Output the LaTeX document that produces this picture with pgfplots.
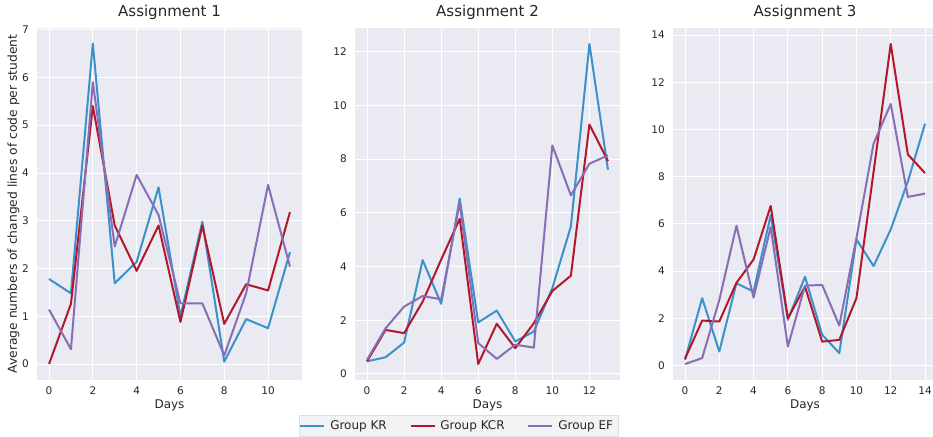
\documentclass[border=0pt]{standalone}
\usepackage{pgfplots}
\pgfplotsset{compat=1.18}
\usepackage{fontspec}
\setmainfont{DejaVu Sans}
\definecolor{bgc}{HTML}{EAEAF2}
\definecolor{kr}{HTML}{3A92C9}
\definecolor{kcr}{HTML}{B2182B}
\definecolor{ef}{HTML}{8A6DB5}
\definecolor{txt}{HTML}{262626}
\definecolor{legbg}{HTML}{F3F3F6}
\newcommand{\lf}{\fontsize{12}{14}\selectfont}
\pgfplotsset{
  base/.style={
    scale only axis, height=352pt,
    axis background/.style={fill=bgc},
    axis line style={draw=none},
    major tick length=0pt,
    grid=major, major grid style={white, line width=0.9pt},
    tick label style={font=\fontsize{10.5}{12}\selectfont, text=txt, inner sep=0pt},
    yticklabel style={anchor=east, xshift=-8pt},
    xticklabel style={anchor=north, yshift=-6.5pt},
    /pgf/number format/assume math mode=true,
    title style={font=\fontsize{15}{18}\selectfont, text=txt, at={(axis description cs:0.5,1)}, anchor=base, yshift=5.5pt, inner sep=0pt},
    xlabel style={font=\fontsize{12}{14}\selectfont, text=txt, at={(axis description cs:0.5,0)}, anchor=base, yshift=-28pt, inner sep=0pt},
    xlabel={Days},
    every axis plot/.append style={line width=2pt, line join=round, mark=none},
    legend image code/.code={\draw[#1, line width=1.6pt] (0pt,0pt) -- (24pt,0pt);},
  }
}
\begin{document}
\begin{tikzpicture}
\useasboundingbox (0pt,0pt) rectangle (933pt,436pt);
% Panel 1
\begin{axis}[base, at={(37pt,56pt)}, anchor=south west, width=265pt,
  xmin=-0.55, xmax=11.55, ymin=-0.335, ymax=7.035,
  xtick={0,2,...,10}, ytick={0,1,...,7},
  title={Assignment 1},
  ylabel={Average numbers of changed lines of code per student},
  ylabel style={font=\fontsize{12.3}{14}\selectfont, text=txt, at={(axis description cs:-0.0755,0.5)}, anchor=base, inner sep=0pt},
]
\addplot[kr] coordinates {(0,1.78)(1,1.48)(2,6.71)(3,1.69)(4,2.14)(5,3.70)(6,1.00)(7,2.98)(8,0.05)(9,0.94)(10,0.75)(11,2.34)};
\addplot[kcr] coordinates {(0,0)(1,1.26)(2,5.40)(3,2.90)(4,1.95)(5,2.90)(6,0.88)(7,2.90)(8,0.84)(9,1.67)(10,1.54)(11,3.18)};
\addplot[ef] coordinates {(0,1.14)(1,0.31)(2,5.90)(3,2.46)(4,3.96)(5,3.12)(6,1.27)(7,1.27)(8,0.18)(9,1.48)(10,3.75)(11,2.04)};
\end{axis}
% Panel 2
\begin{axis}[base, at={(355pt,56pt)}, anchor=south west, width=265pt,
  xmin=-0.65, xmax=13.65, ymin=-0.226, ymax=12.886,
  xtick={0,2,...,12}, ytick={0,2,...,12},
  title={Assignment 2},
  legend columns=3,
  legend style={at={(axis description cs:0.392,-0.0994)}, anchor=north,
    draw=gray!25, fill=legbg, text=txt,
    nodes={text=txt, inner xsep=5pt, inner ysep=2.5pt},
    inner xsep=0pt, inner ysep=3pt,
    /tikz/every even column/.append style={column sep=18pt}},
]
\addplot[kr] coordinates {(0,0.47)(1,0.62)(2,1.17)(3,4.24)(4,2.61)(5,6.53)(6,1.92)(7,2.36)(8,1.21)(9,1.58)(10,3.2)(11,5.5)(12,12.29)(13,7.61)};
\addlegendentry{\lf Group KR}
\addplot[kcr] coordinates {(0,0.47)(1,1.64)(2,1.52)(3,2.69)(4,4.26)(5,5.78)(6,0.37)(7,1.87)(8,0.96)(9,1.89)(10,3.09)(11,3.66)(12,9.29)(13,7.93)};
\addlegendentry{\lf Group KCR}
\addplot[ef] coordinates {(0,0.53)(1,1.70)(2,2.51)(3,2.90)(4,2.78)(5,6.37)(6,1.15)(7,0.56)(8,1.09)(9,0.98)(10,8.51)(11,6.65)(12,7.83)(13,8.14)};
\addlegendentry{\lf Group EF}
\end{axis}
% Panel 3
\begin{axis}[base, at={(673pt,56pt)}, anchor=south west, width=264pt,
  xmin=-0.7, xmax=14.7, ymin=-0.618, ymax=14.298,
  xtick={0,2,...,14}, ytick={0,2,...,14},
  title={Assignment 3},
]
\addplot[kr] coordinates {(0,0.24)(1,2.85)(2,0.59)(3,3.48)(4,3.13)(5,6.37)(6,1.93)(7,3.76)(8,1.30)(9,0.52)(10,5.34)(11,4.21)(12,5.76)(13,7.8)(14,10.24)};
\addplot[kcr] coordinates {(0,0.28)(1,1.90)(2,1.86)(3,3.50)(4,4.49)(5,6.76)(6,2.00)(7,3.34)(8,1.01)(9,1.08)(10,2.85)(11,8.2)(12,13.62)(13,8.94)(14,8.15)};
\addplot[ef] coordinates {(0,0.06)(1,0.31)(2,2.77)(3,5.92)(4,2.87)(5,5.87)(6,0.80)(7,3.38)(8,3.41)(9,1.69)(10,5.4)(11,9.40)(12,11.08)(13,7.14)(14,7.28)};
\end{axis}
\end{tikzpicture}
\end{document}
